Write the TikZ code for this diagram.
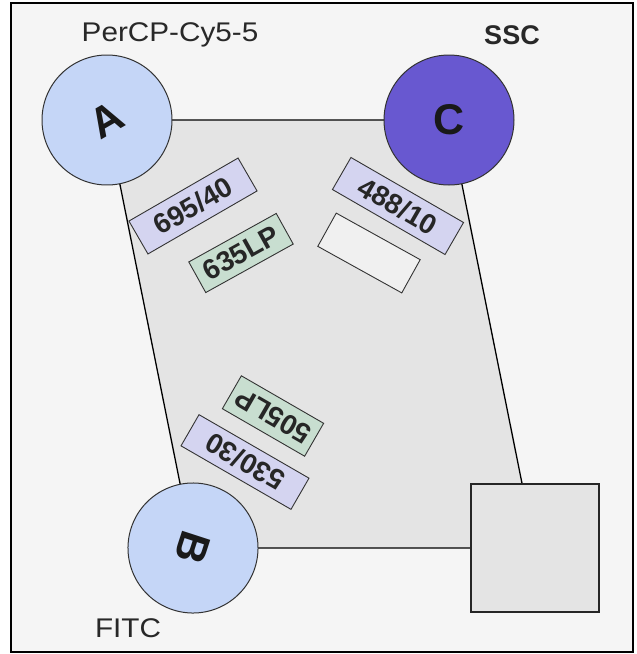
\documentclass[tikz,border=0pt]{standalone}
\usepackage{fontspec}
\setmainfont{Liberation Sans}
\newfontfamily\widefont[FakeStretch=1.1]{Liberation Sans}
\usetikzlibrary{backgrounds}
\definecolor{bgc}{RGB}{245,245,245}
\definecolor{polyc}{RGB}{228,228,228}
\definecolor{lblue}{RGB}{197,214,247}
\definecolor{purp}{RGB}{104,88,208}
\definecolor{lav}{RGB}{212,212,240}
\definecolor{mint}{RGB}{200,222,208}
\definecolor{emptyc}{RGB}{240,240,240}
\definecolor{txt}{RGB}{40,40,40}
\begin{document}
\begin{tikzpicture}[x=1pt,y=-1pt,
  det/.style={circle,draw=black!80,line width=1pt,minimum size=130pt,inner sep=0pt,
    font=\fontsize{43}{43}\selectfont\bfseries,text=black!90},
  filt/.style={draw=black!80,line width=0.9pt,inner sep=0pt,
    font=\fontsize{28}{28}\selectfont\bfseries,text=black!85},
  lab/.style={font=\widefont\fontsize{27}{27}\selectfont,text=txt,inner sep=0pt}]
\useasboundingbox (0,0) rectangle (637,654);
% detectors
\node[det,fill=lblue,rotate=30] (A) at (107,120) {A};
\node[det,fill=purp] (C) at (449,120) {C};
\node[det,fill=lblue,rotate=-108] (B) at (193,548) {B};
\node[draw=black!85,line width=1.5pt,fill=polyc,minimum size=128pt,inner sep=0pt] (D) at (535,548) {};
% filters
\node[filt,fill=lav,minimum width=126pt,minimum height=38pt,rotate=30] (f1) at (193,206) {695/40};
\node[filt,fill=mint,minimum width=100pt,minimum height=35pt,rotate=29] (f2) at (241,253) {635LP};
\node[filt,fill=lav,minimum width=130pt,minimum height=37pt,rotate=-30] (f3) at (398,206) {488/10};
\node[filt,fill=emptyc,minimum width=96pt,minimum height=38pt,rotate=-29] (f4) at (369,253) {};
\node[filt,fill=mint,minimum width=95pt,minimum height=38pt,rotate=150] (f5) at (273,416) {505LP};
\node[filt,fill=lav,minimum width=127pt,minimum height=36pt,rotate=150] (f6) at (245,462) {530/30};
% labels
\node[lab] (lA) at (170,35) {PerCP-Cy5-5};
\node[lab,font=\fontsize{27}{27}\selectfont\bfseries] (lC) at (512,35) {SSC};
\node[lab] (lB) at (128,628) {FITC};
\begin{scope}[on background layer]
  \fill[white] (0,0) rectangle (637,654);
  \draw[fill=bgc,line width=2.2pt] (11,3) rectangle (633,652);
  \draw[fill=polyc,line width=1.3pt] (A.center) -- (C.center) -- (D.center) -- (B.center) -- cycle;
\end{scope}
\end{tikzpicture}
\end{document}
